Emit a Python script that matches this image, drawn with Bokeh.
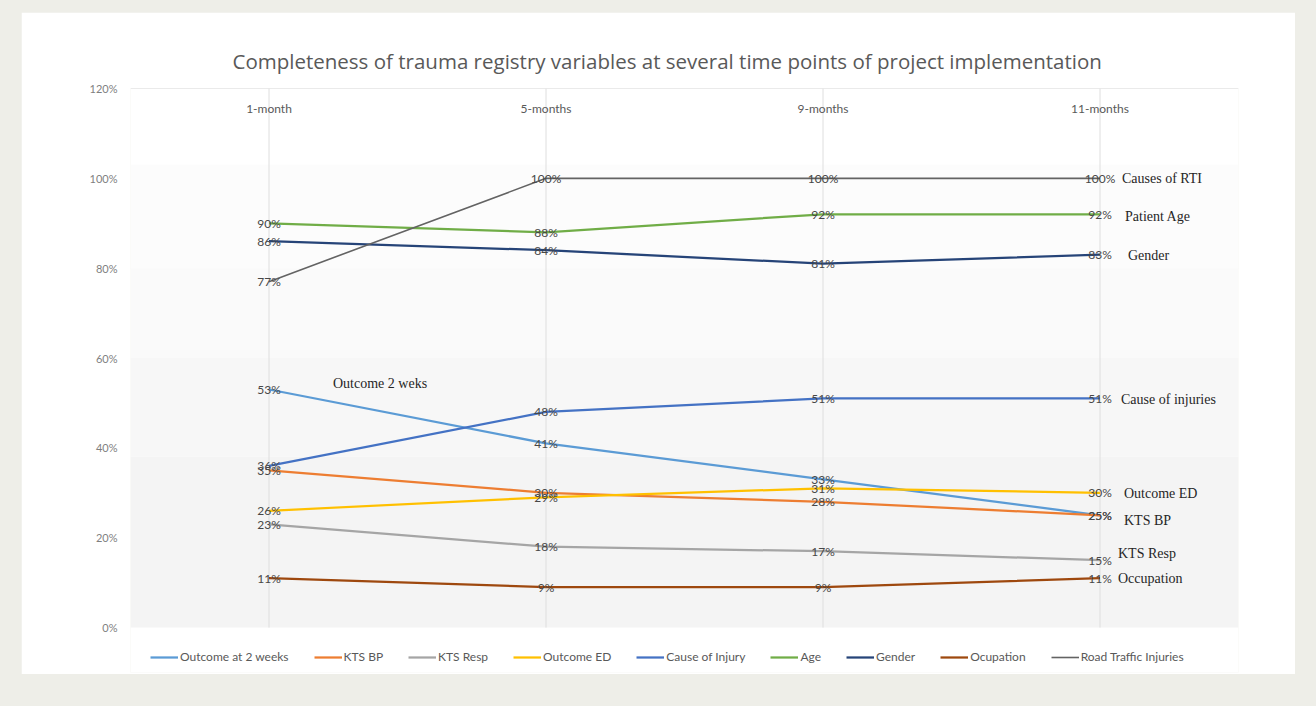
from bokeh.plotting import figure
from bokeh.models import (ColumnDataSource, Legend, LegendItem, Span, BoxAnnotation,
                          NumeralTickFormatter, FixedTicker, Range1d)
from bokeh.layouts import column
from bokeh.core.properties import value
from bokeh.embed import file_html
from bokeh.resources import INLINE

# Time points of project implementation
periods = ["1-month", "5-months", "9-months", "11-months"]

# Completeness (%) of each registry variable at each time point
outcome_2wk = [53, 41, 33, 25]
kts_bp = [35, 30, 28, 25]
kts_resp = [23, 18, 17, 15]
outcome_ed = [26, 29, 31, 30]
cause_of_injury = [36, 48, 51, 51]
age = [90, 88, 92, 92]
gender = [86, 84, 81, 83]
occupation = [11, 9, 9, 11]
road_traffic = [77, 100, 100, 100]

series_names = ["Outcome at 2 weeks", "KTS BP", "KTS Resp", "Outcome ED", "Cause of Injury",
                "Age", "Gender", "Ocupation", "Road Traffic Injuries"]
series_values = [outcome_2wk, kts_bp, kts_resp, outcome_ed, cause_of_injury,
                 age, gender, occupation, road_traffic]
series_colors = ["#5b9bd5", "#ed7d31", "#a5a5a5", "#ffc000", "#4472c4",
                 "#70ad47", "#264478", "#9e480e", "#636363"]
series_widths = [2.25, 2.25, 2.25, 2.25, 2.25, 2.25, 2.25, 2.25, 1.6]

# Side notes: (text, series it belongs to, time point index, x offset px, y offset px)
notes = [
    ("Causes of RTI", road_traffic, 3, 22, 0),
    ("Patient Age", age, 3, 25, 2),
    ("Gender", gender, 3, 28, 1),
    ("Cause of injuries", cause_of_injury, 3, 21, 1),
    ("Outcome ED", outcome_ed, 3, 24, 1),
    ("KTS BP", kts_bp, 3, 24, 5),
    ("KTS Resp", kts_resp, 3, 18, -7),
    ("Occupation", occupation, 3, 18, 0),
    ("Outcome 2 weks", outcome_2wk, 0, 64, -6),
]

title_text = "Completeness of trauma registry variables at several time points of project implementation"
sans = "Lato"
title_font = "Open Sans"
serif = "Liberation Serif"
y_ticks = [0, 0.2, 0.4, 0.6, 0.8, 1.0, 1.2]

# the frame reaches below 0% to leave a strip for the legend
p = figure(width=1274, height=662, x_range=periods, y_range=Range1d(-0.1, 1.2),
           output_backend="svg", toolbar_location=None,
           min_border_left=109, min_border_right=57, min_border_top=76, min_border_bottom=2,
           border_fill_color="white", background_fill_color="white", outline_line_color=None)

p.title.text = title_text
p.title.align = "left"
p.title.offset = 102
p.title.text_font = title_font
p.title.text_font_size = "20.5px"
p.title.text_font_style = "normal"
p.title.text_color = "#595959"
p.title.standoff = 28

# soft shading toward the bottom of the plot area
for lo, hi, c in [(0.0, 0.38, "#f4f4f4"), (0.38, 0.6, "#f7f7f7"),
                  (0.6, 0.8, "#fafafa"), (0.8, 1.03, "#fcfcfc")]:
    p.add_layout(BoxAnnotation(bottom=lo, top=hi, fill_color=c, fill_alpha=1,
                               line_alpha=0, level="image"))

p.xaxis.visible = False
p.xgrid.grid_line_color = None
p.ygrid.grid_line_color = None

# vertical guide lines at each time point, spanning the value scale only
p.segment(x0=periods, y0=[y_ticks[0]] * len(periods), x1=periods,
          y1=[y_ticks[-1]] * len(periods), line_color="#dedede", line_width=1)

p.yaxis.ticker = FixedTicker(ticks=y_ticks)
p.yaxis.formatter = NumeralTickFormatter(format="0%")
p.yaxis.axis_line_color = None
p.yaxis.major_tick_line_color = None
p.yaxis.minor_tick_line_color = None
p.yaxis.major_label_text_font = sans
p.yaxis.major_label_text_font_size = "11px"
p.yaxis.major_label_text_color = "#7f7f7f"
p.yaxis.major_label_standoff = 7

p.add_layout(Span(location=y_ticks[-1], dimension="width", line_color="#d9d9d9", line_width=1))

# time point labels along the top of the plot area
p.text(x=periods, y=[1.155] * len(periods), text=periods, text_align="center",
       text_baseline="middle", text_font=value(sans), text_font_size="12px",
       text_color="#595959")

items = []
for name, vals, col, w in zip(series_names, series_values, series_colors, series_widths):
    src = ColumnDataSource(dict(x=periods, y=[v / 100 for v in vals]))
    r = p.line("x", "y", source=src, line_color=col, line_width=w)
    items.append(LegendItem(label=name, renderers=[r]))

# value labels on every point
for vals in series_values:
    src = ColumnDataSource(dict(x=periods, y=[v / 100 for v in vals],
                                t=[f"{v}%" for v in vals]))
    p.text("x", "y", text="t", source=src, text_align="center", text_baseline="middle",
           text_font=value(sans), text_font_size="12px", text_color="#474747")

for txt, vals, idx, dx, dy in notes:
    p.text(x=[periods[idx]], y=[vals[idx] / 100], text=[txt], x_offset=dx, y_offset=dy,
           text_align="left", text_baseline="middle", text_font=value(serif),
           text_font_size="14px", text_color="#262626")

legend = Legend(items=items, orientation="horizontal", location=(20, 8),
                border_line_alpha=0, background_fill_alpha=0, padding=0, margin=0,
                spacing=25, glyph_width=28, glyph_height=14, label_height=14,
                label_standoff=2, label_text_font=sans, label_text_font_size="12px",
                label_text_color="#595959")
p.add_layout(legend)

layout = column(p, styles={"background-color": "#eeeee8", "padding": "12px 21px 32px 21px"})

open("out.html", "w").write(file_html(layout, INLINE))
